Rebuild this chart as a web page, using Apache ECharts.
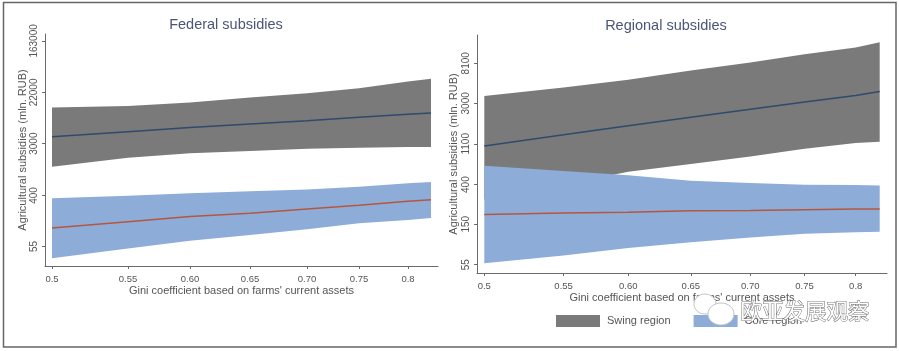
<!DOCTYPE html>
<html>
<head>
<meta charset="utf-8">
<style>
  html, body { margin: 0; padding: 0; background: #fff; }
  #chart { width: 899px; height: 351px; filter: blur(0.4px); }
</style>
<script src="https://cdn.jsdelivr.net/npm/echarts@6/dist/echarts.min.js"></script>
</head>
<body>
<div id="chart"></div>
<script>
// gini tick labels, and where each point sits along the (warped) x scale
const giniTicks = ['0.5', '0.55', '0.60', '0.65', '0.70', '0.75', '0.8'];
const giniScale = [0, 76, 138, 198, 255, 307, 356, 379]; // last one is 0.82, the end of the bands

// y ticks, mln RUB (log axis)
const fedTicks = [55, 400, 3000, 22000, 163000];
const regTicks = [55, 150, 400, 1100, 3000, 8100];

// federal subsidies, mln RUB
const fedSwingHigh = [12200, 13000, 14900, 18000, 21400, 25800, 33500, 37400];
const fedSwingMid = [3940, 4760, 5600, 6440, 7330, 8350, 9410, 9900];
const fedSwingLow = [1220, 1740, 2060, 2250, 2470, 2570, 2640, 2640];
const fedCoreHigh = [361, 395, 437, 473, 503, 561, 646, 679];
const fedCoreMid = [113, 144, 176, 200, 237, 273, 321, 340];
const fedCoreLow = [35, 51, 69, 86, 108, 136, 154, 167];

// regional subsidies, mln RUB
const regSwingHigh = [3600, 4450, 5380, 6770, 8270, 10100, 11970, 13630];
const regSwingMid = [1040, 1380, 1720, 2120, 2590, 3100, 3640, 4020];
const regSwingLow = [276, 399, 550, 665, 804, 973, 1120, 1160];
const regCoreHigh = [639, 561, 503, 441, 415, 399, 395, 392];
const regCoreMid = [191, 198, 202, 209, 211, 215, 219, 219];
const regCoreLow = [57, 69, 83, 96, 108, 118, 123, 124];

const swingColor = '#7a7a7a';
const coreColor = '#8dadd8';
const textColor = '#555';
const fontFamily = '"Liberation Sans", Arial, sans-serif';

function bandSeries(name, low, high, axisIndex, color) {
  return {
    name: name,
    type: 'custom',
    xAxisIndex: axisIndex,
    yAxisIndex: axisIndex,
    itemStyle: { color: color },
    silent: true,
    data: [[giniScale[0], Math.log(low[0]), Math.log(high[0])]],
    renderItem: function (params, api) {
      const points = [];
      giniScale.forEach(function (x, i) { points.push(api.coord([x, Math.log(high[i])])) });
      for (let i = giniScale.length - 1; i >= 0; i--) {
        points.push(api.coord([giniScale[i], Math.log(low[i])]));
      }
      return { type: 'polygon', shape: { points: points }, style: { fill: color } };
    }
  };
}

function midSeries(values, axisIndex, color) {
  return {
    type: 'line',
    xAxisIndex: axisIndex,
    yAxisIndex: axisIndex,
    showSymbol: false,
    silent: true,
    lineStyle: { color: color, width: 1.5 },
    data: values.map(function (v, i) { return [giniScale[i], Math.log(v)] })
  };
}

function xAxisFor(gridIndex) {
  const tickPos = giniScale.slice(0, giniTicks.length);
  return {
    type: 'value',
    gridIndex: gridIndex,
    min: -7,
    max: 386,
    name: "Gini coefficient based on farms' current assets",
    nameLocation: 'middle',
    nameGap: 19,
    nameMoveOverlap: false,
    nameTextStyle: { color: textColor, fontSize: 11, fontFamily: fontFamily },
    axisLine: { onZero: false, lineStyle: { color: '#6b6b6b' } },
    axisTick: { show: true, length: 3, customValues: tickPos, lineStyle: { color: '#6b6b6b' } },
    splitLine: { show: false },
    axisLabel: {
      customValues: tickPos,
      color: textColor,
      fontSize: 9.5,
      fontFamily: fontFamily,
      margin: 8,
      formatter: function (v) { return giniTicks[tickPos.indexOf(v)] }
    }
  };
}

function yAxisFor(gridIndex, ticks, min, max, nameGap) {
  const tickPos = ticks.map(function (t) { return Math.log(t) });
  return {
    type: 'value',
    gridIndex: gridIndex,
    min: min,
    max: max,
    name: 'Agricultural subsidies (mln. RUB)',
    nameLocation: 'middle',
    nameGap: nameGap,
    nameTextStyle: { color: textColor, fontSize: 11, fontFamily: fontFamily },
    axisLine: { show: true, onZero: false, lineStyle: { color: '#6b6b6b' } },
    axisTick: { show: true, length: 3, customValues: tickPos, lineStyle: { color: '#6b6b6b' } },
    splitLine: { show: false },
    axisLabel: {
      customValues: tickPos,
      rotate: 90,
      color: textColor,
      fontSize: 10,
      fontFamily: fontFamily,
      margin: 6,
      formatter: function (v) { return String(ticks[tickPos.indexOf(v)]) }
    }
  };
}

const mychart = echarts.init(document.getElementById('chart'));

const option = {
  animation: false,
  backgroundColor: '#fff',
  title: [
    { text: 'Federal subsidies', left: 221, top: 12, textAlign: 'center',
      textStyle: { color: '#4b5578', fontSize: 14.5, fontWeight: 'normal', fontFamily: fontFamily } },
    { text: 'Regional subsidies', left: 661, top: 13, textAlign: 'center',
      textStyle: { color: '#4b5578', fontSize: 14.5, fontWeight: 'normal', fontFamily: fontFamily } }
  ],
  legend: {
    left: 551,
    top: 310,
    itemWidth: 44,
    itemHeight: 12,
    itemGap: 23,
    icon: 'rect',
    data: ['Swing region', 'Core region'],
    textStyle: { color: textColor, fontSize: 11, fontFamily: fontFamily, padding: [0, 0, 0, 2] }
  },
  grid: [
    { left: 45, top: 34, width: 393, height: 232 },
    { left: 477, top: 35, width: 410, height: 238 }
  ],
  xAxis: [xAxisFor(0), xAxisFor(1)],
  yAxis: [
    yAxisFor(0, fedTicks, 3.25, 12.27, 17),
    yAxisFor(1, regTicks, 3.8, 9.7, 18)
  ],
  series: [
    bandSeries('Swing region', fedSwingLow, fedSwingHigh, 0, swingColor),
    bandSeries('Core region', fedCoreLow, fedCoreHigh, 0, coreColor),
    midSeries(fedSwingMid, 0, '#2f4a6b'),
    midSeries(fedCoreMid, 0, '#b4573f'),
    bandSeries('Swing region', regSwingLow, regSwingHigh, 1, swingColor),
    bandSeries('Core region', regCoreLow, regCoreHigh, 1, coreColor),
    midSeries(regSwingMid, 1, '#2f4a6b'),
    midSeries(regCoreMid, 1, '#b4573f')
  ],
  graphic: [
    // outer frame
    { type: 'rect', silent: true, shape: { x: 3.5, y: 2.5, width: 892.5, height: 344.5 },
      style: { fill: 'none', stroke: '#666', lineWidth: 1.5 } },
    // watermark
    { type: 'ellipse', silent: true, z: 100, shape: { cx: 705, cy: 304, rx: 11, ry: 10 },
      style: { fill: '#fff', stroke: '#c4c4c4', lineWidth: 1 } },
    { type: 'ellipse', silent: true, z: 100, shape: { cx: 721, cy: 314, rx: 13, ry: 11 },
      style: { fill: '#fff', stroke: '#c4c4c4', lineWidth: 1 } },
    { type: 'text', silent: true, z: 100, left: 740, top: 300,
      style: { text: '欧亚发展观察', fill: '#fff', stroke: '#6e6e6e', lineWidth: 1,
        fontSize: 21.5, fontFamily: '"Noto Sans CJK SC"' } }
  ]
};

option && mychart.setOption(option);
</script>
</body>
</html>
